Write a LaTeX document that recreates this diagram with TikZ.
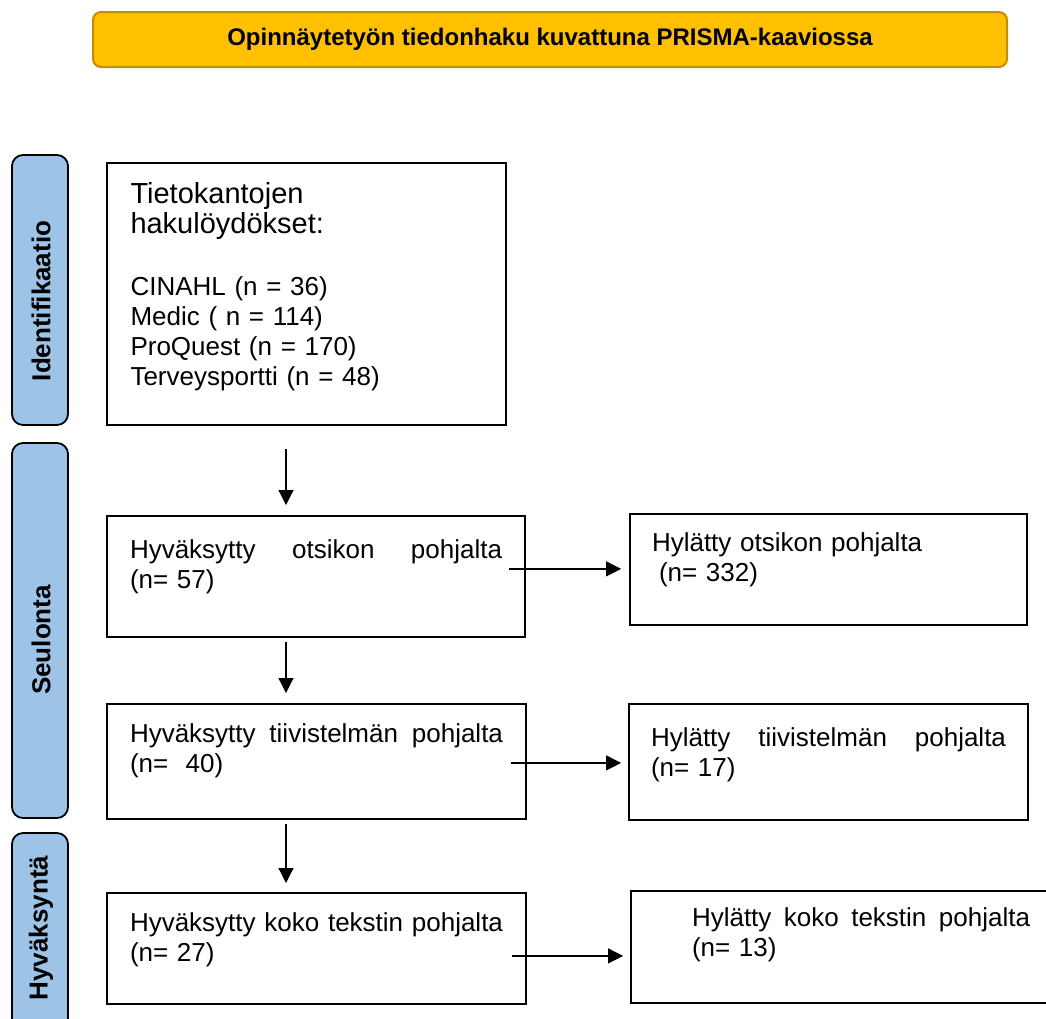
\documentclass[tikz,border=0pt]{standalone}
\usepackage{fontspec}
\setmainfont{Liberation Sans}
\usetikzlibrary{arrows.meta}
\definecolor{titlefill}{HTML}{FFC000}
\definecolor{titleline}{HTML}{BF9000}
\definecolor{barfill}{HTML}{9DC3E6}

\begin{document}
\begin{tikzpicture}[x=1pt,y=-1pt,
    box/.style={draw, line width=1.8pt, rectangle, anchor=north, inner ysep=0pt,
        font=\fontsize{26}{30}\selectfont},
    sidebar/.style={draw, line width=1.8pt, fill=barfill, rounded corners=11pt,
        minimum width=56pt, inner sep=0pt},
    sidetxt/.style={rotate=90, inner sep=0pt, font=\fontsize{26}{30}\selectfont\bfseries},
    arr/.style={-{Triangle[length=15pt,width=15pt]}, line width=1.2pt}]
    \useasboundingbox (0,0) rectangle (1046,1018);
    \clip (0,0) rectangle (1046,1018);

    \node[draw=titleline, line width=2pt, fill=titlefill, rounded corners=8pt,
        minimum width=914pt, minimum height=55pt,
        font=\fontsize{24}{28}\selectfont\bfseries] (title) at (550,39.5)
        {Opinnäytetyön tiedonhaku kuvattuna PRISMA-kaaviossa};

    % vaiheet
    \node[sidebar, minimum height=270pt] (ident) at (40,290) {};
    \node[sidetxt] (identtxt) at (41,301) {Identifikaatio};
    \node[sidebar, minimum height=375pt] (seul) at (40,630.5) {};
    \node[sidetxt] (seultxt) at (41,640) {Seulonta};
    \node[sidebar, minimum height=210pt] (hyv) at (40,938) {};
    \node[sidetxt] (hyvtxt) at (41,928) {Hyväksyntä};

    % hyvaksytyt
    \node[box, text width=352pt, inner xsep=23.5pt, text height=41pt, text depth=221pt]
        (haku) at (306.5,162) {\fontsize{29}{30}\selectfont Tietokantojen\\hakulöydökset:\\[32pt]%
        \fontsize{26}{30}\selectfont CINAHL (n = 36)\\Medic ( n = 114)\\ProQuest (n = 170)\\Terveysportti (n = 48)};
    \node[box, text width=372pt, inner xsep=23pt, text height=43pt, text depth=78pt]
        (otsikko) at (316,515) {\hbox to\linewidth{Hyväksytty\hfill otsikon\hfill pohjalta}\\(n= 57)};
    \node[box, text width=373pt, inner xsep=23pt, text height=39pt, text depth=76pt]
        (tiivis) at (316.5,703) {\hbox to\linewidth{Hyväksytty\hfill tiivistelmän\hfill pohjalta}\\(n=\ \ 40)};
    \node[box, text width=373pt, inner xsep=23pt, text height=39pt, text depth=72pt]
        (koko) at (316.5,892) {\hbox to\linewidth{Hyväksytty\hfill koko\hfill tekstin\hfill pohjalta}\\(n= 27)};

    % hylatyt
    \node[box, text width=353pt, inner xsep=22pt, text height=38pt, text depth=73pt]
        (hylotsikko) at (828.5,513) {Hylätty otsikon pohjalta\\\hspace*{7pt}(n= 332)};
    \node[box, text width=355pt, inner xsep=22pt, text height=43pt, text depth=73pt]
        (hyltiivis) at (828.5,703) {\hbox to\linewidth{Hylätty\hfill tiivistelmän\hfill pohjalta}\\(n= 17)};
    \node[box, text width=338pt, inner xsep=61pt, text height=36pt, text depth=76pt]
        (hylkoko) at (861,890) {\hbox to\linewidth{Hylätty\hfill koko\hfill tekstin\hfill pohjalta}\\(n= 13)};

    \draw[arr, shorten <=23pt, shorten >=10pt] ([xshift=-20.5pt]haku.south) coordinate (v1) -- (v1 |- otsikko.north);
    \draw[arr, shorten <=4pt, shorten >=10pt] ([xshift=-30pt]otsikko.south) coordinate (v2) -- (v2 |- tiivis.north);
    \draw[arr, shorten <=4pt, shorten >=9pt] ([xshift=-30.5pt]tiivis.south) coordinate (v3) -- (v3 |- koko.north);

    \draw[arr, shorten >=8pt] ([xshift=-17pt,yshift=7.5pt]otsikko.east) coordinate (h1) -- (h1 -| hylotsikko.west);
    \draw[arr, shorten >=7pt] ([xshift=-16pt,yshift=-1.5pt]tiivis.east) coordinate (h2) -- (h2 -| hyltiivis.west);
    \draw[arr, shorten >=7pt] ([xshift=-15pt,yshift=-7.5pt]koko.east) coordinate (h3) -- (h3 -| hylkoko.west);
\end{tikzpicture}
\end{document}
